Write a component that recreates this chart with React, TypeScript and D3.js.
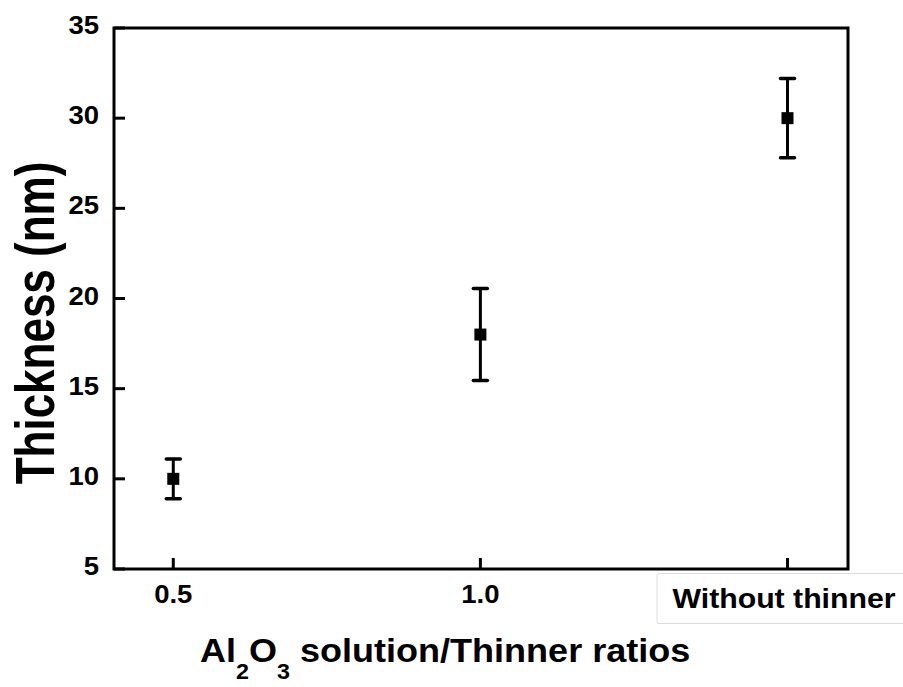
import React from "react";
import * as d3 from "d3";

const categories = ["0.5", "1.0", "Without thinner"];
const thickness = [10, 18, 30];
const errors = [1.1, 2.55, 2.2];
const yTicks = [5, 10, 15, 20, 25, 30, 35];

const W = 903;
const H = 687;
const M = { left: 114, right: 848, top: 28, bottom: 569 };
const FONT = "'Liberation Sans', Arial, sans-serif";

export default function App() {
  const x = d3.scaleLinear().domain([-0.193, 2.197]).range([M.left, M.right]);
  const y = d3.scaleLinear().domain([5, 35]).range([M.bottom, M.top]);
  const pts = categories.map((c, i) => ({ c, i, v: thickness[i], e: errors[i] }));
  return (
    <svg width={W} height={H} style={{ position: "absolute", left: 0, top: 0, background: "#fff" }}>
      {/* frame */}
      <rect x={M.left} y={M.top} width={M.right - M.left} height={M.bottom - M.top} fill="none" stroke="#000" strokeWidth={3} />
      {/* y ticks */}
      {yTicks.map((t) => (
        <g key={t}>
          <line x1={M.left} x2={M.left + 11} y1={y(t)} y2={y(t)} stroke="#000" strokeWidth={3} />
          <text transform={`translate(${M.left - 15},${y(t) - 3}) scale(1.1,1)`} dy="0.36em" textAnchor="end" fontFamily={FONT} fontWeight="bold" fontSize={25}>
            {t}
          </text>
        </g>
      ))}
      {/* x ticks */}
      {pts.map((p) => (
        <line key={p.c} x1={x(p.i)} x2={x(p.i)} y1={M.bottom} y2={M.bottom - 11} stroke="#000" strokeWidth={3} />
      ))}
      {pts.slice(0, 2).map((p) => (
        <text key={p.c} transform={`translate(${x(p.i)},603) scale(1.1,1)`} textAnchor="middle" fontFamily={FONT} fontWeight="bold" fontSize={25}>
          {p.c}
        </text>
      ))}
      <rect x={657} y={573.5} width={250} height={50} rx={2} fill="#fff" stroke="#ddd" strokeWidth={1} />
      <text transform={`translate(${x(2) - 3.5},608) scale(1.08,1)`} textAnchor="middle" fontFamily={FONT} fontWeight="bold" fontSize={28}>
        {categories[2]}
      </text>
      {/* error bars & markers */}
      {pts.map((p) => (
        <g key={p.c}>
          <line x1={x(p.i)} x2={x(p.i)} y1={y(p.v - p.e)} y2={y(p.v + p.e)} stroke="#000" strokeWidth={3} />
          <line x1={x(p.i) - 7} x2={x(p.i) + 7} y1={y(p.v + p.e)} y2={y(p.v + p.e)} stroke="#000" strokeWidth={3.5} strokeLinecap="round" />
          <line x1={x(p.i) - 7} x2={x(p.i) + 7} y1={y(p.v - p.e)} y2={y(p.v - p.e)} stroke="#000" strokeWidth={3.5} strokeLinecap="round" />
          <rect x={x(p.i) - 6} y={y(p.v) - 6} width={12} height={12} fill="#000" />
        </g>
      ))}
      {/* axis titles */}
      <text transform="translate(200,662) scale(1.06,1)" textAnchor="start" fontFamily={FONT} fontWeight="bold" fontSize={34}>
        Al<tspan fontSize={22} dy={17}>2</tspan>
        <tspan dy={-17}>O</tspan>
        <tspan fontSize={22} dy={17}>3</tspan>
        <tspan dy={-17}> solution/Thinner ratios</tspan>
      </text>
      <text transform="translate(54,323) rotate(-90) scale(1,1.25)" textAnchor="middle" fontFamily={FONT} fontWeight="bold" fontSize={44}>
        Thickness (nm)
      </text>
    </svg>
  );
}
